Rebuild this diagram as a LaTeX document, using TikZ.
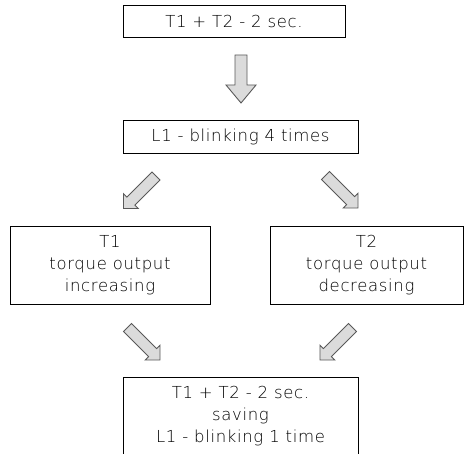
\documentclass[tikz,border=0pt]{standalone}
\usepackage{fontspec}
\setmainfont{DejaVu Sans ExtraLight}[LetterSpace=4]
\begin{document}
\begin{tikzpicture}[x=1pt,y=-1pt,
  box/.style={draw=black,line width=0.9pt,inner sep=0pt,align=center,
    font=\fontsize{16.5}{22}\selectfont,text=black},
  garrow/.style={draw=black!65,fill=black!14,line width=0.9pt,line join=miter}]
\useasboundingbox (0,0) rectangle (465,454);
% boxes
\node[box,minimum width=222pt,minimum height=32pt] (start) at (234,21) {T1 + T2 - 2 sec.};
\node[box,minimum width=235pt,minimum height=33pt] (blink) at (240.5,136.5) {L1 - blinking 4 times};
\node[box,minimum width=200pt,minimum height=78pt] (t1) at (110,265) {T1\\torque output\\increasing};
\node[box,minimum width=193pt,minimum height=78pt] (t2) at (366.5,265) {T2\\torque output\\decreasing};
\node[box,minimum width=235pt,minimum height=78pt] (save) at (240.5,416) {T1 + T2 - 2 sec.\\saving\\L1 - blinking 1 time};
% block arrows: tail point, angle, length, shaft width, head width, head length
\newcommand\blockarrow[6]{%
  \draw[garrow,shift={#1},rotate=#2]
    (0,-#4/2) -- (#3-#6,-#4/2) -- (#3-#6,-#5/2) -- (#3,0) -- (#3-#6,#5/2)
    -- (#3-#6,#4/2) -- (0,#4/2) -- cycle;}
\blockarrow{(241,55)}{-90}{48}{12}{30}{18}
\blockarrow{(156,176)}{225}{46}{11.3}{21}{10.5}
\blockarrow{(325.5,175.5)}{-45}{46}{11.3}{21}{10.5}
\blockarrow{(127.5,327.5)}{-45}{46}{11.3}{21}{10.5}
\blockarrow{(352.5,327.5)}{225}{46}{11.3}{21}{10.5}
\end{tikzpicture}
\end{document}
